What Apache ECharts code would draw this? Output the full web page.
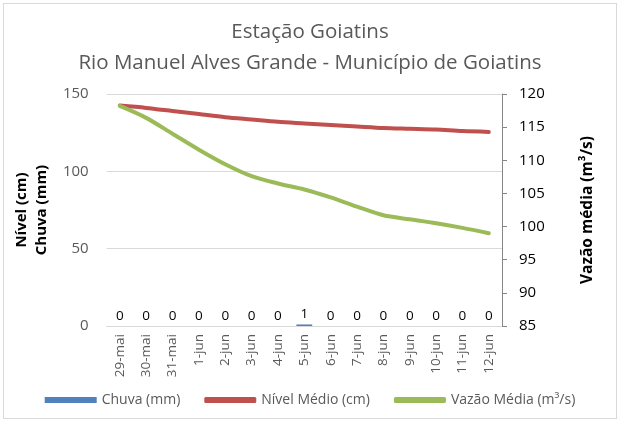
<!DOCTYPE html>
<html><head><meta charset="utf-8">
<script src="https://cdn.jsdelivr.net/npm/echarts@6/dist/echarts.min.js"></script>
<style>html,body{margin:0;padding:0;background:#fff}
#c{position:absolute;left:3px;top:3px;width:614px;height:416px;border:1px solid #d9d9d9;box-sizing:border-box}</style>
</head><body><div id="c"></div>
<script>
const categories = ["29-mai","30-mai","31-mai","1-jun","2-jun","3-jun","4-jun","5-jun","6-jun","7-jun","8-jun","9-jun","10-jun","11-jun","12-jun"];
const chuva = [0,0,0,0,0,0,0,1,0,0,0,0,0,0,0];
const nivel = [142.5,141,139,137,135,133.5,132,131,130,129,128,127.5,127,126,125.5];
const vazao = [118.2,116.4,114,111.6,109.4,107.6,106.5,105.6,104.4,103,101.7,101.1,100.5,99.8,99.0];
const leftTicks = {min:0,max:150,interval:50};
const rightTicks = {min:85,max:120,interval:5};

const FONT = '"Open Sans", "Liberation Sans", sans-serif';
const chart = echarts.init(document.getElementById('c'));
chart.setOption({
  animation:false,
  textStyle:{fontFamily:FONT},
  title:{
    text:'Estação Goiatins\nRio Manuel Alves Grande - Município de Goiatins',
    left:'center', top:8,
    textStyle:{fontFamily:FONT,fontWeight:'normal',fontSize:20.5,color:'#595959',lineHeight:31}
  },
  legend:{
    bottom:6, left:'center', itemGap:24, itemWidth:52, itemHeight:6,
    textStyle:{fontFamily:FONT,fontSize:14,color:'#595959'},
    data:[
      {name:'Chuva (mm)',icon:'rect'},
      {name:'Nível Médio (cm)',icon:'roundRect'},
      {name:'Vazão Média (m³/s)',icon:'roundRect'}
    ]
  },
  grid:{left:102,right:114,top:90,bottom:92},
  xAxis:{
    type:'category', data:categories, boundaryGap:true,
    axisLine:{lineStyle:{color:'#d9d9d9'}},
    axisTick:{show:false},
    axisLabel:{rotate:90,color:'#595959',fontSize:13.5,fontFamily:FONT,margin:8}
  },
  yAxis:[
    {type:'value',min:leftTicks.min,max:leftTicks.max,interval:leftTicks.interval,
     axisLine:{show:false},axisTick:{show:false},
     splitLine:{lineStyle:{color:'#d9d9d9'}},
     axisLabel:{color:'#595959',fontSize:15,fontFamily:FONT,margin:18},
     name:'Nível (cm)\nChuva (mm)', nameLocation:'middle', nameGap:50, nameRotate:90,
     nameTextStyle:{fontWeight:'bold',fontSize:15,color:'#000',lineHeight:20,fontFamily:FONT}
    },
    {type:'value',min:rightTicks.min,max:rightTicks.max,interval:rightTicks.interval,
     position:'right',
     axisLine:{show:true,lineStyle:{color:'#868686'}},
     axisTick:{show:true,length:5,lineStyle:{color:'#868686'}},
     splitLine:{show:false},
     axisLabel:{color:'#000',fontSize:15,fontFamily:FONT,margin:17},
     name:'Vazão média (m³/s)', nameLocation:'middle', nameGap:78, nameRotate:90,
     nameTextStyle:{fontWeight:'bold',fontSize:15.5,color:'#000',fontFamily:FONT}
    }
  ],
  series:[
    {name:'Chuva (mm)',type:'bar',data:chuva,yAxisIndex:0,barWidth:'60%',
     itemStyle:{color:'#4f81bd'},
     label:{show:true,position:'top',distance:3,color:'#000',fontSize:13.5,fontFamily:FONT}},
    {name:'Nível Médio (cm)',type:'line',data:nivel,yAxisIndex:0,smooth:0.3,
     symbol:'none',lineStyle:{color:'#c0504d',width:4,cap:'round'},itemStyle:{color:'#c0504d'}},
    {name:'Vazão Média (m³/s)',type:'line',data:vazao,yAxisIndex:1,smooth:0.3,
     symbol:'none',lineStyle:{color:'#9bbb59',width:4,cap:'round'},itemStyle:{color:'#9bbb59'}}
  ]
});
</script></body></html>
